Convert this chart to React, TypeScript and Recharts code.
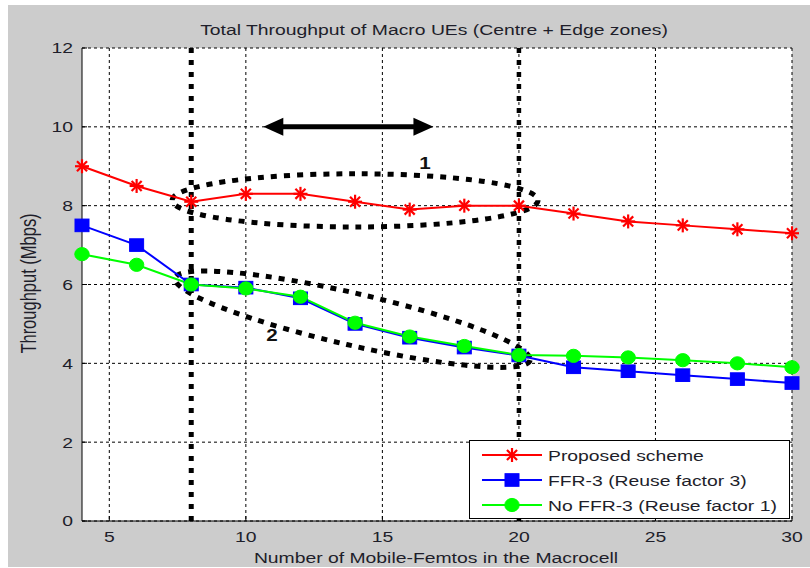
import React from 'react';
import { LineChart, Line, XAxis, YAxis, CartesianGrid, ReferenceLine, ReferenceArea, ReferenceDot } from 'recharts';

const xValues = [4, 6, 8, 10, 12, 14, 16, 18, 20, 22, 24, 26, 28, 30];
const proposed = [9.0, 8.5, 8.1, 8.3, 8.3, 8.1, 7.9, 8.0, 8.0, 7.8, 7.6, 7.5, 7.4, 7.3];
const ffr3 = [7.5, 7.0, 6.0, 5.92, 5.65, 5.0, 4.65, 4.4, 4.2, 3.9, 3.8, 3.7, 3.6, 3.5];
const noFfr3 = [6.77, 6.5, 6.0, 5.9, 5.69, 5.03, 4.68, 4.44, 4.21, 4.19, 4.15, 4.08, 4.0, 3.9];
const xTicks = [5, 10, 15, 20, 25, 30];
const yTicks = [0, 2, 4, 6, 8, 10, 12];
const seriesNames = ['Proposed scheme', 'FFR-3 (Reuse factor 3)', 'No FFR-3 (Reuse factor 1)'];
const titleText = 'Total Throughput of Macro UEs (Centre + Edge zones)';
const xLabelText = 'Number of Mobile-Femtos in the Macrocell';
const yLabelText = 'Throughput (Mbps)';
const dividerXs = [8, 20];
const arrowSpan = { x1: 10.64, x2: 16.87, y: 10 };
const ellipse1 = { x1: 7.3, x2: 20.7, y1: 7.46, y2: 8.81 };
const ellipse2 = { x1: 7.41, x2: 20.41, yLeft: 6.16, yRight: 4.08 };
const labelOne = { x: 16.56, y: 9.09, text: '1' };
const labelTwo = { x: 10.96, y: 4.72, text: '2' };

const data = xValues.map((x, i) => ({ x, proposed: proposed[i], ffr3: ffr3[i], noFfr3: noFfr3[i] }));

const FONT = '"Liberation Sans", Arial, sans-serif';
const SX = 1.29;
const TXT = '#1e1e2a';
const RED = '#ff0000';
const BLUE = '#0000ff';
const GREEN = '#00ff00';

const Star = ({ cx, cy, s = 7 }: any) => {
  if (cx == null || cy == null) return null;
  const d = s * 0.72;
  return (
    <g stroke={RED} strokeWidth={2.2}>
      <line x1={cx - s} x2={cx + s} y1={cy} y2={cy} />
      <line x1={cx} x2={cx} y1={cy - s} y2={cy + s} />
      <line x1={cx - d} x2={cx + d} y1={cy - d} y2={cy + d} />
      <line x1={cx - d} x2={cx + d} y1={cy + d} y2={cy - d} />
    </g>
  );
};
const Square = ({ cx, cy }: any) => {
  if (cx == null || cy == null) return null;
  return <rect x={cx - 7} y={cy - 6.3} width={14} height={12.6} fill={BLUE} stroke={BLUE} />;
};
const Circle = ({ cx, cy }: any) => {
  if (cx == null || cy == null) return null;
  return <ellipse cx={cx} cy={cy} rx={7.2} ry={6.6} fill={GREEN} stroke={GREEN} />;
};

const YTick = ({ x, y, payload }: any) => (
  <g>
    <line x1={x} x2={x + 5} y1={y} y2={y} stroke="#000" />
    <text transform={`translate(${x - 9},${y + 5.4}) scale(${SX},1)`} textAnchor="end" fontSize={15} fontFamily={FONT} fill={TXT}>
      {payload.value}
    </text>
  </g>
);
const XTick = ({ x, y, payload }: any) => (
  <g>
    <line x1={x} x2={x} y1={y} y2={y - 5} stroke="#000" />
    <text transform={`translate(${x},${y + 20.5}) scale(${SX},1)`} textAnchor="middle" fontSize={15} fontFamily={FONT} fill={TXT}>
      {payload.value}
    </text>
  </g>
);

const XLabel = ({ viewBox }: any) => {
  const cx = viewBox.x + viewBox.width / 2;
  return (
    <text transform={`translate(${cx - 1},${viewBox.y + 42}) scale(${SX},1)`} textAnchor="middle" fontSize={15} fontFamily={FONT} fill={TXT}>
      {xLabelText}
    </text>
  );
};
const YLabel = ({ viewBox }: any) => {
  const cy = viewBox.y + viewBox.height / 2;
  return (
    <text transform={`translate(${36},${cy - 1}) scale(${SX},1) rotate(-90)`} textAnchor="middle" fontSize={16.5} fontFamily={FONT} fill={TXT}>
      {yLabelText}
    </text>
  );
};

const DOT = { stroke: '#000', strokeWidth: 5, strokeDasharray: '6 7', fill: 'none' };

const FlatEllipse = ({ x, y, width, height }: any) => (
  <ellipse cx={x + width / 2} cy={y + height / 2} rx={width / 2} ry={height / 2} {...DOT} />
);
const TiltEllipse = ({ x, y, width, height }: any) => {
  const cx = x + width / 2;
  const cy = y + height / 2;
  const rx = Math.sqrt(width * width + height * height) / 2;
  const ang = (Math.atan2(height, width) * 180) / Math.PI;
  return <ellipse cx={cx} cy={cy} rx={rx} ry={26} transform={`rotate(${ang},${cx},${cy})`} {...DOT} />;
};
const Arrow = ({ x, y, width, height }: any) => {
  const cy = y + height / 2;
  const l = x;
  const r = x + width;
  const hl = 20;
  const hh = 9;
  return (
    <g>
      <line x1={l + hl - 2} x2={r - hl + 2} y1={cy} y2={cy} stroke="#000" strokeWidth={5} />
      <polygon points={`${l},${cy} ${l + hl},${cy - hh} ${l + hl},${cy + hh}`} fill="#000" />
      <polygon points={`${r},${cy} ${r - hl},${cy - hh} ${r - hl},${cy + hh}`} fill="#000" />
    </g>
  );
};
const makeNumLabel = (t: string) => ({ cx, cy }: any) => (
  <text transform={`translate(${cx},${cy + 6}) scale(${SX},1)`} textAnchor="middle" fontSize={16} fontWeight="bold" fontFamily={FONT} fill="#111">
    {t}
  </text>
);

const Legend = () => {
  const rows = [
    { name: seriesNames[0], color: RED, marker: (cx: number, cy: number) => <Star cx={cx} cy={cy} s={7} /> },
    { name: seriesNames[1], color: BLUE, marker: (cx: number, cy: number) => <Square cx={cx} cy={cy} /> },
    { name: seriesNames[2], color: GREEN, marker: (cx: number, cy: number) => <Circle cx={cx} cy={cy} /> },
  ];
  return (
    <svg width={321} height={80} style={{ position: 'absolute', left: 469, top: 440 }}>
      <rect x={0.5} y={0.5} width={320} height={78} fill="#fff" stroke="#000" strokeWidth={1} />
      {rows.map((r, i) => {
        const cy = 15 + i * 25;
        return (
          <g key={r.name}>
            <line x1={13} x2={73} y1={cy} y2={cy} stroke={r.color} strokeWidth={2} />
            {r.marker(43, cy)}
            <text transform={`translate(79,${cy + 5.5}) scale(${SX},1)`} fontSize={15} fontFamily={FONT} fill={TXT}>
              {r.name}
            </text>
          </g>
        );
      })}
    </svg>
  );
};

export default function App() {
  return (
    <div style={{ position: 'absolute', left: 0, top: 0, width: 810, height: 568, background: '#fff', overflow: 'hidden' }}>
      <div style={{ position: 'absolute', left: 8, top: 5, width: 802, height: 562, background: '#cccccc' }} />
      <div style={{ position: 'absolute', left: 0, top: 0 }}>
        <LineChart width={810} height={568} data={data} margin={{ top: 48, right: 18, left: 0, bottom: 0 }}>
          <CartesianGrid stroke="#000" strokeDasharray="3 3" strokeWidth={1} fill="#fff" fillOpacity={1} horizontalValues={yTicks} verticalValues={xTicks} />
          <XAxis
            dataKey="x"
            type="number"
            domain={[4, 30]}
            ticks={xTicks}
            height={47}
            tickSize={0}
            tickMargin={0}
            tickLine={false}
            axisLine={{ stroke: '#000', strokeWidth: 1 }}
            tick={<XTick />}
            label={<XLabel />}
          />
          <YAxis
            type="number"
            domain={[0, 12]}
            ticks={yTicks}
            width={82}
            tickSize={0}
            tickMargin={0}
            tickLine={false}
            axisLine={{ stroke: '#000', strokeWidth: 1 }}
            tick={<YTick />}
            label={<YLabel />}
          />
          <Line type="linear" dataKey="proposed" stroke={RED} strokeWidth={2} dot={<Star />} isAnimationActive={false} />
          <Line type="linear" dataKey="ffr3" stroke={BLUE} strokeWidth={2} dot={<Square />} isAnimationActive={false} />
          <Line type="linear" dataKey="noFfr3" stroke={GREEN} strokeWidth={2} dot={<Circle />} isAnimationActive={false} />
          {dividerXs.map((dx, i) => (
            <ReferenceLine key={dx} x={dx} stroke="#000" strokeWidth={i === 0 ? 5 : 4.5} strokeDasharray="5 7" />
          ))}
          <ReferenceArea x1={ellipse1.x1} x2={ellipse1.x2} y1={ellipse1.y1} y2={ellipse1.y2} shape={<FlatEllipse />} />
          <ReferenceArea x1={ellipse2.x1} x2={ellipse2.x2} y1={ellipse2.yRight} y2={ellipse2.yLeft} shape={<TiltEllipse />} />
          <ReferenceArea x1={arrowSpan.x1} x2={arrowSpan.x2} y1={arrowSpan.y - 0.1} y2={arrowSpan.y + 0.1} shape={<Arrow />} />
          <ReferenceDot x={labelOne.x} y={labelOne.y} r={0} shape={makeNumLabel(labelOne.text)} />
          <ReferenceDot x={labelTwo.x} y={labelTwo.y} r={0} shape={makeNumLabel(labelTwo.text)} />
        </LineChart>
      </div>
      <svg width={810} height={48} style={{ position: 'absolute', left: 0, top: 0 }}>
        <text transform={`translate(434,34.5) scale(${SX},1)`} textAnchor="middle" fontSize={15} fontFamily={FONT} fill={TXT}>
          {titleText}
        </text>
      </svg>
      <Legend />
    </div>
  );
}
